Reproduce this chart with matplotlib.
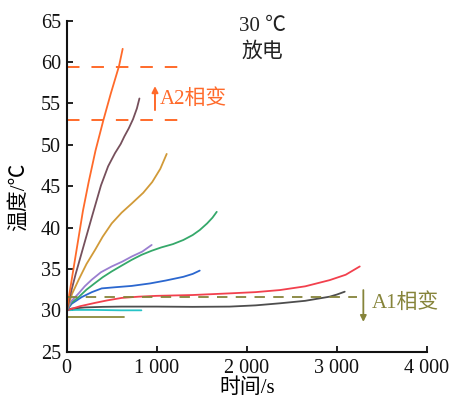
import matplotlib
matplotlib.use("Agg")
import matplotlib.pyplot as plt

plt.rcParams['font.family'] = ['Liberation Serif', 'Noto Sans CJK SC', 'DejaVu Sans']
plt.rcParams['lines.scale_dashes'] = False
plt.rcParams['axes.unicode_minus'] = False

# ---- data ----
orange_t = [0, 60, 120, 180, 244, 320, 408, 490, 581, 622]
orange_T = [30, 34, 38, 42, 45.5, 49.3, 53, 56.2, 59.5, 61.6]

brown_t = [0, 50, 100, 186, 280, 381, 460, 537, 600, 640, 690, 737, 780, 808]
brown_T = [30, 32.3, 34.4, 37.7, 41.3, 45.1, 47.4, 49, 50.1, 51, 52, 53.1, 54.4, 55.6]

golden_t = [0, 60, 133, 220, 315, 400, 500, 610, 722, 850, 950, 1040, 1111]
golden_T = [30, 32, 33.7, 35.6, 37.3, 38.9, 40.5, 41.8, 42.9, 44.2, 45.5, 47.1, 48.9]

purple_t = [0, 50, 133, 200, 278, 380, 500, 620, 722, 840, 944]
purple_T = [30, 31.1, 32.05, 32.9, 33.7, 34.6, 35.3, 35.9, 36.5, 37.1, 37.9]

green_t = [0, 50, 133, 220, 315, 400, 500, 610, 722, 830, 944, 1050, 1180, 1296, 1400, 1478, 1560, 1620, 1667]
green_T = [30, 30.9, 31.6, 32.5, 33.3, 34.0, 34.7, 35.4, 36.1, 36.7, 37.2, 37.6, 38.0, 38.5, 39.1, 39.7, 40.5, 41.2, 41.9]

blue_t = [0, 56, 167, 280, 389, 550, 722, 926, 1100, 1296, 1400, 1478]
blue_T = [30, 30.8, 31.6, 32.2, 32.65, 32.8, 32.95, 33.25, 33.6, 34.05, 34.4, 34.8]

red_t = [0, 150, 315, 450, 611, 800, 1000, 1400, 1811, 2100, 2370, 2650, 2922, 3100, 3256]
red_T = [30, 30.5, 30.9, 31.2, 31.5, 31.65, 31.75, 31.85, 32.05, 32.2, 32.45, 32.9, 33.65, 34.3, 35.3]

gray_t = [0, 50, 200, 400, 611, 1000, 1400, 1811, 2100, 2370, 2650, 2922, 3000, 3089]
gray_T = [30, 30.2, 30.35, 30.42, 30.45, 30.45, 30.42, 30.45, 30.6, 30.85, 31.15, 31.65, 31.9, 32.25]

cyan_t = [0, 100, 300, 600, 830]
cyan_T = [30, 30.05, 30.05, 30.0, 30.0]

olive_t = [0, 640]
olive_T = [29.25, 29.25]

a2_levels = [53.0, 59.4]
a2_xmax = 1300
a1_level = 31.6
a1_xmax = 3222

xticks = [0, 1000, 2000, 3000, 4000]
xticklabels = ["0", "1 000", "2 000", "3 000", "4 000"]
yticks = [25, 30, 35, 40, 45, 50, 55, 60, 65]

series = [
    (olive_t, olive_T, '#8c8a3c'),
    (cyan_t, cyan_T, '#27c3c6'),
    (gray_t, gray_T, '#4d4d4d'),
    (red_t, red_T, '#f2404d'),
    (blue_t, blue_T, '#2b67cf'),
    (green_t, green_T, '#35a86a'),
    (purple_t, purple_T, '#9a7fd0'),
    (golden_t, golden_T, '#d19a38'),
    (brown_t, brown_T, '#76505c'),
    (orange_t, orange_T, '#ff6a2a'),
]

ORANGE = '#ff6a2a'
OLIVE = '#86843a'

fig = plt.figure(figsize=(4.53, 4.01), dpi=100)
ax = fig.add_axes([66.7 / 453, 1 - 351.7 / 401, 360 / 453, 331 / 401])

for t, T, c in series:
    ax.plot(t, T, color=c, lw=1.3, solid_capstyle='round', solid_joinstyle='round')

for lvl in a2_levels:
    ax.plot([0, a2_xmax], [lvl, lvl], color=ORANGE, lw=1.4, dashes=(9, 8.6))
ax.plot([0, a1_xmax], [a1_level, a1_level], color=OLIVE, lw=1.3, dashes=(7.5, 6))

# A2 arrow & text
ax.annotate('', xy=(981, 57.1), xytext=(981, 54.2),
            arrowprops=dict(arrowstyle='-|>', color=ORANGE, lw=1.4,
                            mutation_scale=9, shrinkA=0, shrinkB=0))
ax.text(1037, 55.5, 'A2相变', color=ORANGE, fontsize=15, ha='left', va='center')

# A1 arrow & text
ax.annotate('', xy=(3296, 28.6), xytext=(3296, 32.45),
            arrowprops=dict(arrowstyle='-|>', color=OLIVE, lw=1.3,
                            mutation_scale=9, shrinkA=0, shrinkB=0))
ax.text(3389, 30.9, 'A1相变', color=OLIVE, fontsize=15, ha='left', va='center')

ax.text(2176, 64.25, '30 ℃', color='#222222', fontsize=15, ha='center', va='center')
ax.text(2176, 61.2, '放电', color='#222222', fontsize=15, ha='center', va='center')

ax.set_xlim(0, 4000)
ax.set_ylim(25, 65)
ax.set_xticks(xticks)
ax.set_xticklabels(xticklabels)
ax.set_yticks(yticks)

for s in ['top', 'right']:
    ax.spines[s].set_visible(False)
for s in ['left', 'bottom']:
    ax.spines[s].set_linewidth(1.5)
    ax.spines[s].set_color('#111111')

ax.tick_params(axis='both', direction='in', length=4, width=1.3, labelsize=14.5,
               colors='#111111')
ax.tick_params(axis='x', pad=5)
ax.tick_params(axis='y', pad=4)

ax.set_xlabel('时间/s', fontsize=15, va='center')
ax.xaxis.set_label_coords(0.5, (351.7 - 388) / 331)
ax.set_ylabel('温度/℃', fontsize=15, va='center')
ax.yaxis.set_label_coords((19 - 66.7) / 360, (351.7 - 197) / 331)

fig.savefig('out.png', dpi=100)
